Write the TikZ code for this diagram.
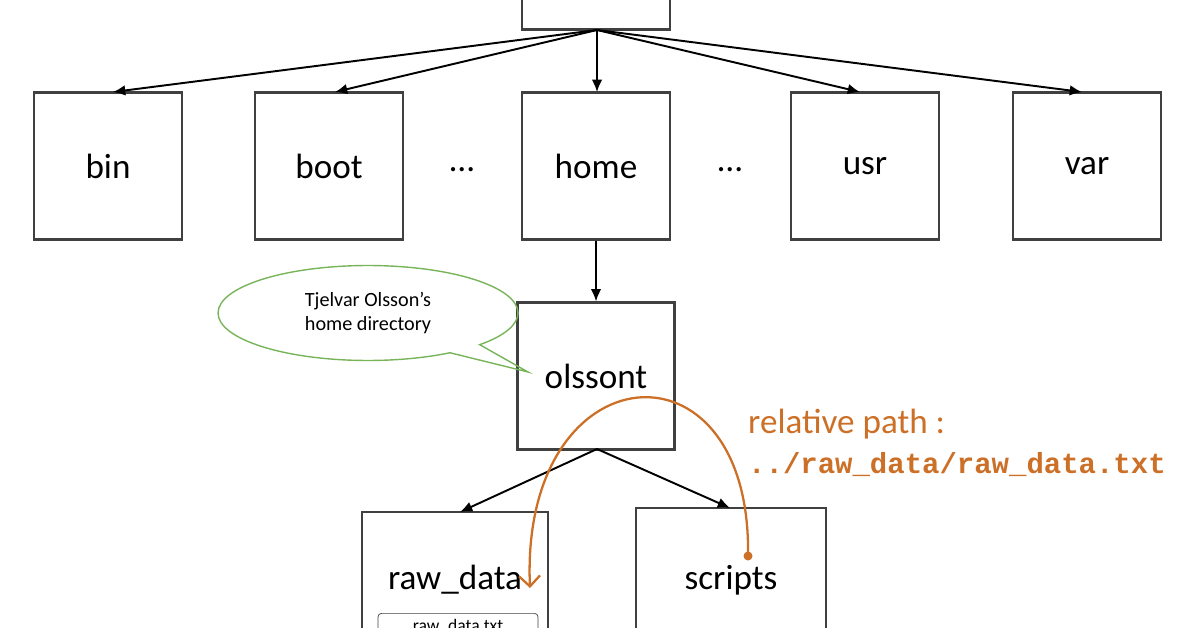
\documentclass[tikz,border=0pt]{standalone}
\usepackage{fontspec}
\setmainfont{Carlito}
\setmonofont{Liberation Mono}
\usetikzlibrary{positioning,arrows.meta,shapes.callouts}
\definecolor{pathorange}{RGB}{204,112,40}
\definecolor{calloutgreen}{RGB}{120,180,90}
\tikzset{
  dir/.style={
    draw=black!75,
    line width=1.2pt,
    minimum width=2.96cm,
    minimum height=2.94cm,
    font=\fontsize{20}{24}\selectfont
  },
  link/.style={-{Latex[length=7pt,width=6pt]},line width=1.1pt}
}

\begin{document}
\begin{tikzpicture}[x=0.02cm,y=-0.02cm]
\useasboundingbox (0,0) rectangle (1196,628);
\clip (0,0) rectangle (1196,628);

% top level
\node[dir] (root) at (596,-44) {};
\node[dir] (bin)  at (108,166) {bin};
\node[dir] (boot) at (329,166) {boot};
\node[dir] (home) at (596,166) {home};
\node[dir] (usr)  at (865,166) {usr};
\node[dir] (var)  at (1087,166) {var};
\node[font=\fontsize{20}{24}\selectfont] (dots1) at (462,170) {\dots};
\node[font=\fontsize{20}{24}\selectfont] (dots2) at (730,170) {\dots};

% user level
\node[dir,minimum width=3.14cm] (olssont) at (596,376) {olssont};
\node[dir,minimum width=3.72cm,minimum height=2.72cm] (raw) at (455,580) {raw\_data};
\node[dir,minimum width=3.8cm,minimum height=2.88cm] (scripts) at (731,580) {scripts};
\node[draw=black!75,rounded corners=2pt,minimum width=3.2cm,minimum height=0.5cm,
  font=\fontsize{10}{11}\selectfont,anchor=north] (rawtxt) at (458,613) {raw\_data.txt};

\foreach \d/\x in {bin/113,boot/335,home/597,usr/860,var/1082}
  \draw[link] (597,30) -- (\x,92);
\draw[link] (home.south) -- (olssont.north);
\draw[link] (597,449) -- (460,512);
\draw[link] (597,449) -- (730,508);

% note
\node[ellipse callout,draw=calloutgreen,thick,minimum width=6cm,minimum height=1.9cm,
  callout absolute pointer={(528,372)},align=center,
  font=\fontsize{11.5}{14}\selectfont] (note) at (368,313)
  {Tjelvar Olsson's\\home directory};

% relative path
\coordinate (start) at (748,556);
\coordinate (stop) at (530,588);
\fill[pathorange] (start) circle (4.5);
\draw[pathorange,line width=1.3pt,-{Straight Barb[length=6pt]}]
  (start) .. controls (752,330) and (520,350) .. (stop);
\node[pathorange,anchor=west,align=left,font=\fontsize{20}{23}\selectfont] (label) at (742,443)
  {relative path :\\{\fontsize{16.5}{20}\selectfont\bfseries\ttfamily ../raw\_data/raw\_data.txt}};
\end{tikzpicture}
\end{document}
